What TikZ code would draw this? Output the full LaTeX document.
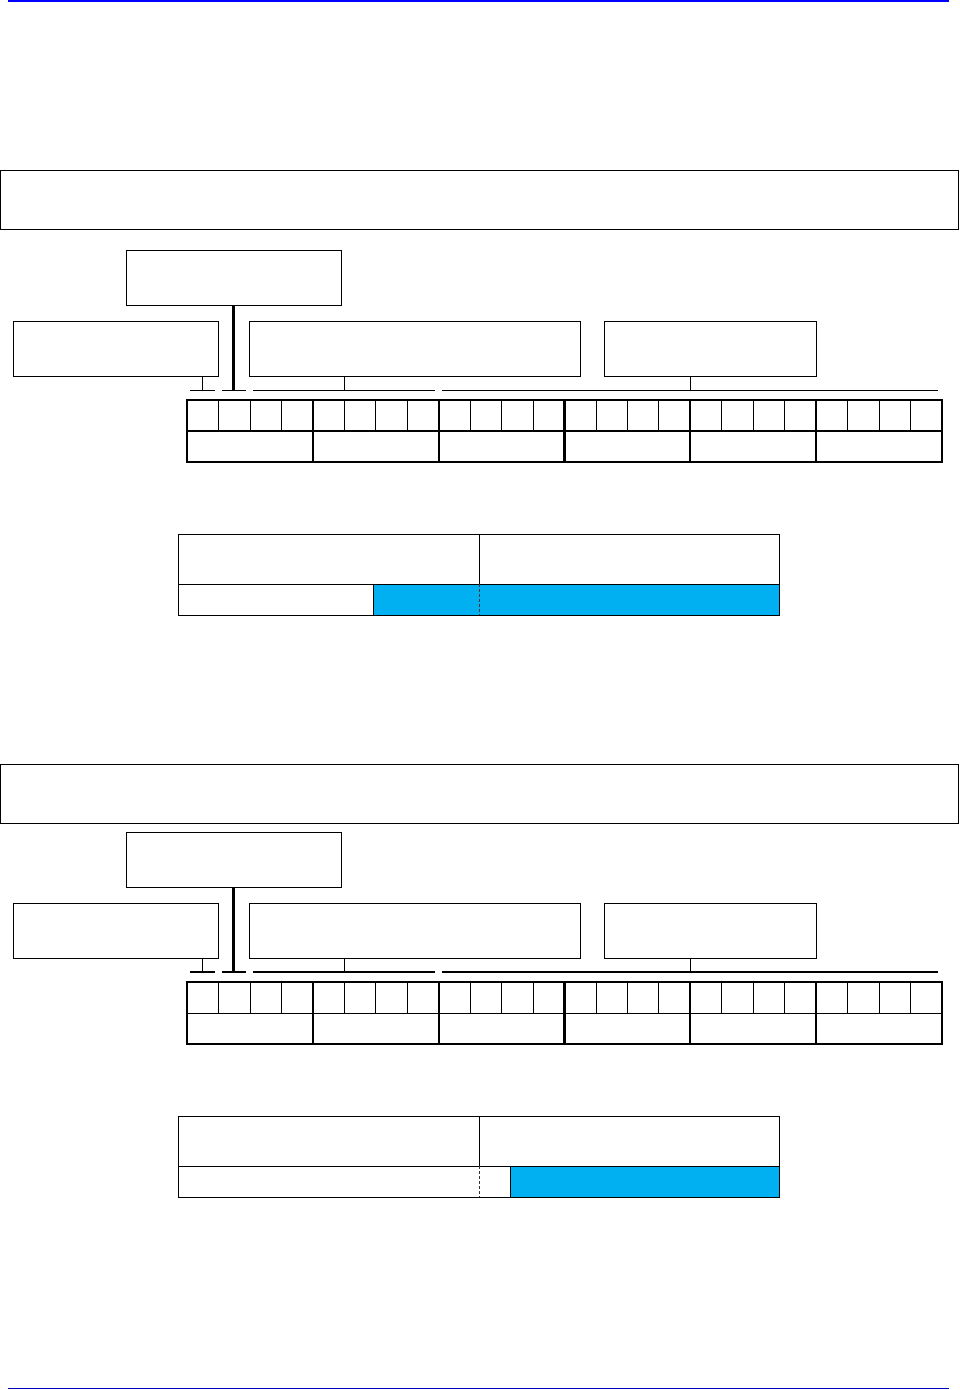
\documentclass[tikz,border=0pt]{standalone}
\usetikzlibrary{positioning,calc}
\definecolor{regblue}{HTML}{00B0F0}
\definecolor{rulenavy}{HTML}{0000C0}

\begin{document}
\begin{tikzpicture}[x=1pt,y=-1pt,
    box/.style={draw,line width=1pt,inner sep=0pt,outer sep=0pt},
    thin/.style={line width=0.8pt},
    fat/.style={line width=2.2pt}]
  \useasboundingbox (0,0) rectangle (959,1390);
  \draw[blue,line width=1.6pt] (8,1) -- (949,1);
  \draw[rulenavy,line width=1pt] (8,1388) -- (949,1388);

  % two register layouts, one above the other
  \foreach \s/\by/\fy/\cut/\mw/\bw in {1/0/0/373/2.2pt/0.9pt, 2/582/12/510/1pt/2.2pt} {
    \begin{scope}[shift={(0,\by)}]
      \node[box,minimum width=958pt,minimum height=59pt] (frame\s) at (479,{199.5+\fy}) {};
      \node[box,minimum width=215pt,minimum height=55pt] (hdr\s) at (233.5,277.5) {};
      \node[box,minimum width=205pt,minimum height=55pt] (lft\s) at (115.5,348.5) {};
      \node[box,minimum width=331pt,minimum height=55pt] (mid\s) at (414.5,348.5) {};
      \node[box,minimum width=212pt,minimum height=55pt] (rgt\s) at (710,348.5) {};

      % brackets over the bit row
      \coordinate (tl\s) at (202,390);
      \coordinate (th\s) at (233.5,390);
      \coordinate (tm\s) at (344,390);
      \coordinate (tr\s) at (690,390);
      \foreach \a/\b in {190/215, 222/246, 253/435, 442/938}
        \draw[line width=\bw] (\a,390) -- (\b,390);
      \draw[thin] (tl\s |- lft\s.south) -- (tl\s);
      \draw[fat] (hdr\s.south) -- (th\s);
      \draw[thin] (tm\s |- mid\s.south) -- (tm\s);
      \draw[thin] (tr\s |- rgt\s.south) -- (tr\s);

      % bit row
      \node[box,fat,minimum width=755pt,minimum height=62pt] (reg\s) at (564.5,431) {};
      \foreach \j in {1,...,23}
        \draw[thin] ($(reg\s.north west)!\j/24!(reg\s.north east)$) -- ($(reg\s.west)!\j/24!(reg\s.east)$);
      \draw[line width=\mw] (reg\s.west) -- (reg\s.east);
      \foreach \i in {1,...,5}
        \draw[fat] ($(reg\s.north west)!\i/6!(reg\s.north east)$) -- ($(reg\s.south west)!\i/6!(reg\s.south east)$);

      % field table
      \fill[regblue] (\cut,584) rectangle (779,615);
      \node[box,minimum width=601pt,minimum height=81pt] (tab\s) at (478.5,574.5) {};
      \coordinate (tc\s) at (479,584);
      \draw (tab\s.west |- tc\s) -- (tab\s.east |- tc\s);
      \draw (tab\s.north -| tc\s) -- (tc\s);
      \draw[densely dashed,black!80] (tc\s) -- (tab\s.south -| tc\s);
      \draw (\cut,584) -- (\cut,615);
    \end{scope}
  }
\end{tikzpicture}
\end{document}
